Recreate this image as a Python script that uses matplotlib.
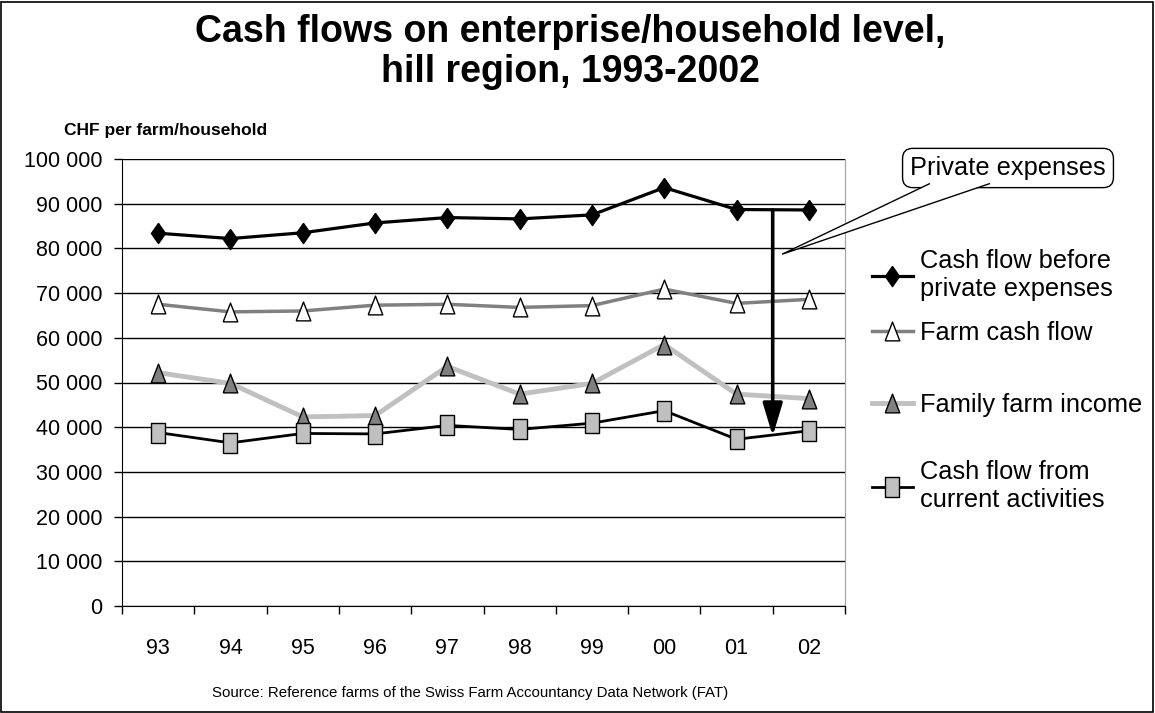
import matplotlib
matplotlib.use("Agg")
import matplotlib.pyplot as plt
from matplotlib.patches import Rectangle, Polygon
from matplotlib.ticker import FuncFormatter, FixedLocator
import numpy as np

plt.rcParams['font.family'] = ['Liberation Sans', 'DejaVu Sans']

years = ['93', '94', '95', '96', '97', '98', '99', '00', '01', '02']
cash_before_private = [83400, 82200, 83500, 85700, 86900, 86600, 87500, 93600, 88700, 88600]
farm_cash_flow = [67500, 65800, 66000, 67300, 67500, 66800, 67200, 70900, 67700, 68600]
family_farm_income = [52200, 49800, 42300, 42600, 53600, 47400, 49800, 58500, 47400, 46400]
cash_current = [38800, 36500, 38600, 38500, 40400, 39500, 40900, 43700, 37300, 39200]
series_labels = ['Cash flow before\nprivate expenses', 'Farm cash flow',
                 'Family farm income', 'Cash flow from\ncurrent activities']

W, H = 1155, 713
fig = plt.figure(figsize=(W/100, H/100), dpi=100)
ax = fig.add_axes([122/W, 1-606/H, (845-122)/W, (606-159)/H])

x = np.arange(len(years))

# markers slightly taller than wide, as in the reference
diamond = [(0, 1), (0.7, 0), (0, -1), (-0.7, 0), (0, 1)]
tri = [(-0.39, -0.5), (0.39, -0.5), (0, 0.5), (-0.39, -0.5)]
square = [(-0.37, -0.5), (0.37, -0.5), (0.37, 0.5), (-0.37, 0.5), (-0.37, -0.5)]

l1, = ax.plot(x, cash_before_private, color='black', lw=2.3, marker=diamond, ms=14.5,
              mfc='black', mec='black', mew=1, label=series_labels[0], zorder=5)
l2, = ax.plot(x, farm_cash_flow, color='#808080', lw=2.5, marker=tri, ms=13.5,
              mfc='white', mec='black', mew=1, label=series_labels[1], zorder=4)
l3, = ax.plot(x, family_farm_income, color='#c0c0c0', lw=3.5, marker=tri, ms=13.5,
              mfc='#808080', mec='black', mew=1, label=series_labels[2], zorder=3)
l4, = ax.plot(x, cash_current, color='black', lw=2, marker=square, ms=14,
              mfc='#c0c0c0', mec='black', mew=1, label=series_labels[3], zorder=6)

ax.set_xlim(-0.5, len(years)-0.5)
ax.set_ylim(0, 100000)
ax.set_yticks(np.arange(0, 100001, 10000))
ax.yaxis.set_major_formatter(FuncFormatter(lambda v, p: f"{int(v):,}".replace(',', ' ')))
ax.set_xticks(x)
ax.set_xticklabels(years)
ax.xaxis.set_minor_locator(FixedLocator(np.arange(-0.5, len(years), 1)))
ax.tick_params(axis='x', which='major', length=0, pad=23, labelsize=15.5)
ax.tick_params(axis='x', which='minor', length=6, width=1, direction='out', color='black')
ax.tick_params(axis='y', length=6, width=1, direction='out', pad=8, labelsize=15.5)

ax.grid(axis='y', color='black', lw=1)
ax.set_axisbelow(True)
ax.spines['top'].set_visible(False)
ax.spines['right'].set_color('#a0a0a0')
ax.spines['left'].set_color('black')
ax.spines['bottom'].set_color('black')

# Private expenses arrow
ax.annotate('', xy=(8.5, 38000), xytext=(8.5, cash_before_private[-1]),
            arrowprops=dict(arrowstyle='-|>,head_length=1.0,head_width=0.3',
                            mutation_scale=20, lw=2.6, color='black', shrinkA=0, shrinkB=0),
            zorder=7)

# Callout box
fig.text(1008/W, 1-168/H, 'Private expenses', ha='center', va='center', fontsize=18.3,
         bbox=dict(boxstyle='round,pad=0.3,rounding_size=0.4', fc='white', ec='black', lw=1),
         zorder=8)
# Callout pointer (speech-bubble wedge joined to the bottom of the box)
tip_px = ax.transData.transform((8.63, 78700))
tip = (tip_px[0]/W, tip_px[1]/H)
wedge = Polygon([(930/W, 1-183.5/H), tip, (990/W, 1-183.5/H)], closed=False,
                transform=fig.transFigure, fc='white', ec='black', lw=1, zorder=9)
fig.patches.append(wedge)

# Legend entries (Excel spaces them unevenly)
legend_y = [275, 333, 405, 486]
for h, yy in zip([l1, l2, l3, l4], legend_y):
    fig.legend(handles=[h], loc='center left', bbox_to_anchor=(872/W, 1-yy/H), frameon=False,
               fontsize=18.3, handlelength=1.6, handletextpad=0.28,
               borderaxespad=0, borderpad=0)

fig.text(0.494, 1-52/H, 'Cash flows on enterprise/household level,\nhill region, 1993-2002',
         ha='center', va='center', fontsize=27, fontweight='bold', linespacing=1.15)
fig.text(166/W, 1-131/H, 'CHF per farm/household', ha='center', va='center',
         fontsize=12.5, fontweight='bold')
fig.text(470/W, 1-693/H, 'Source: Reference farms of the Swiss Farm Accountancy Data Network (FAT)',
         ha='center', va='center', fontsize=10.8)

fig.patches.append(Rectangle((1/W, 1/H), (W-3)/W, (H-3)/H, transform=fig.transFigure,
                             fill=False, ec='black', lw=1.2))

fig.savefig('out.png', dpi=100)
